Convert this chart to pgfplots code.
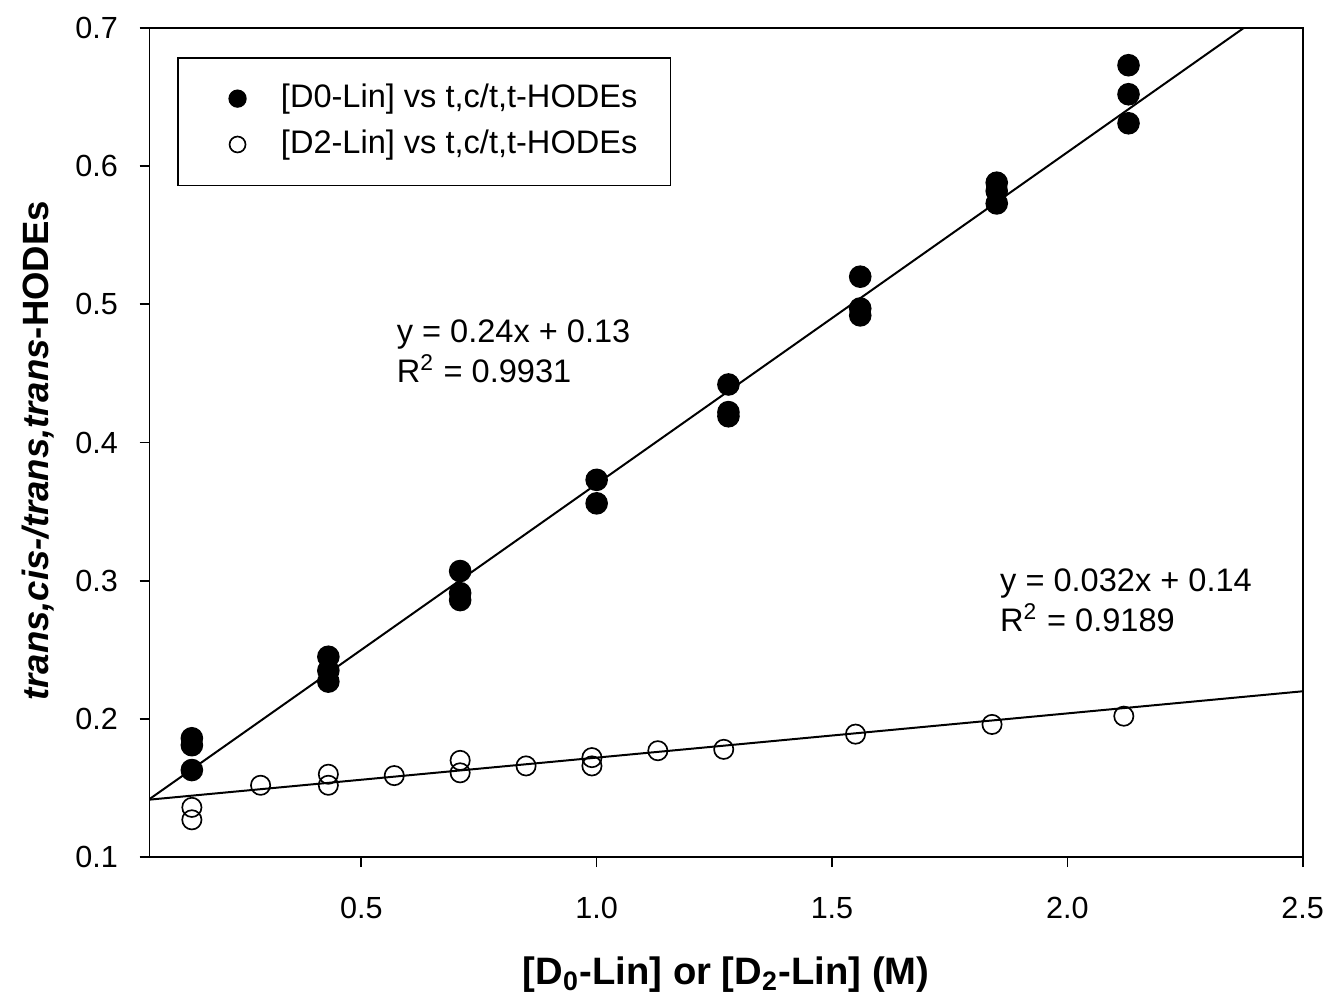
\documentclass[border=0pt]{standalone}
\usepackage{pgfplots}
\pgfplotsset{compat=1.18}
\usepackage{fontspec}
\setmainfont{Liberation Sans}

\begin{document}
\begin{tikzpicture}
\begin{axis}[
    scale only axis,
    width=347.1pt,
    height=249.6pt,
    xmin=0.05, xmax=2.5,
    ymin=0.1, ymax=0.7,
    xtick={0.5,1.0,1.5,2.0,2.5},
    ytick={0.1,0.2,0.3,0.4,0.5,0.6,0.7},
    tick align=outside,
    major tick length=3pt,
    xtick pos=bottom,
    ytick pos=left,
    axis line style={line width=0.6pt},
    tick style={line width=0.5pt, black},
    /pgf/number format/assume math mode=true,
    /pgf/number format/fixed,
    /pgf/number format/fixed zerofill,
    /pgf/number format/precision=1,
    tick label style={font=\fontsize{9.2}{11}\selectfont},
    xticklabel style={yshift=-5.5pt},
    yticklabel style={xshift=-3pt},
    xlabel={\textbf{[D\textsubscript{0}-Lin] or [D\textsubscript{2}-Lin] (M)}},
    ylabel={\textbf{\textit{trans,cis-/trans,trans}-HODEs}},
    xlabel style={font=\fontsize{11.5}{13}\selectfont, at={(axis description cs:0.5,-0.142)}, anchor=center},
    ylabel style={font=\fontsize{11}{13}\selectfont, at={(axis description cs:-0.097,0.49)}, anchor=center},
    legend style={at={(0.024,0.965)}, anchor=north west, draw=black, line width=0.5pt,
        font=\fontsize{9.8}{11}\selectfont, inner xsep=8pt, inner ysep=6pt, row sep=1.2pt},
    legend cell align=left,
]
% D0-Lin (filled)
\addplot[only marks, mark=*, mark size=3.2pt, mark options={fill=black, draw=black},
    legend image code/.code={\path (0,0) (0.72cm,0); \fill[black] (0.34cm,0) circle (2.5pt);}]
coordinates {
    (0.14,0.186)(0.14,0.181)(0.14,0.163)
    (0.43,0.245)(0.43,0.235)(0.43,0.227)
    (0.71,0.307)(0.71,0.291)(0.71,0.286)
    (1.00,0.373)(1.00,0.356)
    (1.28,0.442)(1.28,0.422)(1.28,0.419)
    (1.56,0.520)(1.56,0.497)(1.56,0.492)
    (1.85,0.588)(1.85,0.582)(1.85,0.573)
    (2.13,0.673)(2.13,0.652)(2.13,0.631)
};
\addlegendentry{[D0-Lin] vs t,c/t,t-HODEs}
% D2-Lin (open)
\addplot[only marks, mark=o, mark size=2.9pt, mark options={draw=black, fill=white, line width=0.5pt},
    legend image code/.code={\path (0,0) (0.72cm,0); \draw[black, line width=0.5pt, fill=white] (0.34cm,0) circle (2.4pt);}]
coordinates {
    (0.14,0.136)(0.14,0.127)
    (0.286,0.152)
    (0.43,0.160)(0.43,0.152)
    (0.57,0.159)
    (0.71,0.170)(0.71,0.161)
    (0.85,0.166)
    (0.99,0.172)(0.99,0.166)
    (1.13,0.177)
    (1.27,0.178)
    (1.55,0.189)
    (1.84,0.196)
    (2.12,0.202)
};
\addlegendentry{[D2-Lin] vs t,c/t,t-HODEs}
% regression lines
\addplot[black, line width=0.6pt, forget plot] coordinates {(0.05,0.142)(2.375,0.700)};
\addplot[black, line width=0.6pt, forget plot] coordinates {(0.05,0.1416)(2.5,0.220)};
\node[anchor=north west, align=left, inner sep=0pt, font=\fontsize{9.8}{12}\selectfont]
    at (axis cs:0.574,0.489) {y = 0.24x + 0.13\\R\textsuperscript{2} = 0.9931};
\node[anchor=north west, align=left, inner sep=0pt, font=\fontsize{9.8}{12}\selectfont]
    at (axis cs:1.856,0.309) {y = 0.032x + 0.14\\R\textsuperscript{2} = 0.9189};
\coordinate (ll) at (rel axis cs:0,0);
\coordinate (ur) at (rel axis cs:1,1);
\end{axis}
\path (ll) ++(-45pt,-43.2pt);
\path (ur) ++(8.4pt,8.4pt);
\end{tikzpicture}
\end{document}
